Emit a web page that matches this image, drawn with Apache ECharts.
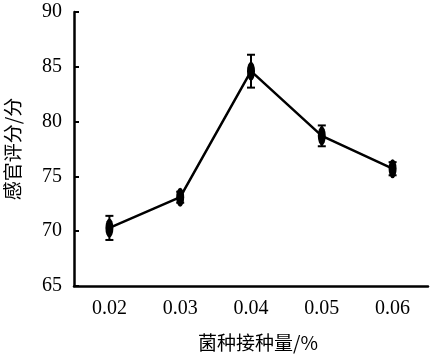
<!DOCTYPE html>
<html><head><meta charset="utf-8">
<script src="https://cdn.jsdelivr.net/npm/echarts@6/dist/echarts.min.js"></script>
<style>html,body{margin:0;padding:0;background:#fff}#c{width:430px;height:358px}</style>
</head><body><div id="c"></div>
<script>
const categories = ['0.02', '0.03', '0.04', '0.05', '0.06'];
const scores = [70.3, 73.1, 84.6, 78.7, 75.7];
const errors = [1.1, 0.5, 1.5, 0.95, 0.6];
const yTicks = [65, 70, 75, 80, 85, 90];

const chart = echarts.init(document.getElementById('c'), null, {renderer: 'canvas'});
const serif = '"Liberation Serif","Times New Roman",serif';
const cjk = '"Noto Sans CJK SC",sans-serif';
chart.setOption({
  animation: false,
  backgroundColor: '#fff',
  grid: {left: 74, top: 12, right: 2, bottom: 72, containLabel: false, outerBoundsMode: 'none'},
  xAxis: {
    type: 'category', data: categories, boundaryGap: true,
    name: '菌种接种量/%', nameLocation: 'middle', nameGap: 47,
    nameTextStyle: {fontFamily: cjk, fontSize: 19, color: '#000', padding: [0, 0, 0, 14]},
    axisLine: {lineStyle: {color: '#000', width: 2.5}},
    axisTick: {alignWithLabel: true, inside: true, length: 10, lineStyle: {color: '#000', width: 2}},
    axisLabel: {fontFamily: serif, fontSize: 20, color: '#000', margin: 13}
  },
  yAxis: {
    type: 'value', min: yTicks[0], max: yTicks[yTicks.length - 1], interval: 5,
    name: '感官评分/分', nameLocation: 'middle', nameGap: 52,
    nameTextStyle: {fontFamily: cjk, fontSize: 19, color: '#000'},
    splitLine: {show: false},
    axisLine: {show: true, lineStyle: {color: '#000', width: 2.5}},
    axisTick: {show: true, inside: true, length: 5, lineStyle: {color: '#000', width: 2}},
    axisLabel: {fontFamily: serif, fontSize: 20, color: '#000', margin: 12}
  },
  series: [
    {
      type: 'line', data: scores, symbol: 'circle', symbolSize: [8, 19],
      lineStyle: {color: '#000', width: 2.5}, itemStyle: {color: '#000'}, z: 3
    },
    {
      type: 'custom', z: 4,
      data: scores.map((v, i) => [i, v - errors[i], v + errors[i]]),
      renderItem: function (params, api) {
        const lo = api.coord([api.value(0), api.value(1)]);
        const hi = api.coord([api.value(0), api.value(2)]);
        const w = 4;
        const st = {stroke: '#000', lineWidth: 2};
        return {type: 'group', children: [
          {type: 'line', shape: {x1: lo[0], y1: lo[1], x2: hi[0], y2: hi[1]}, style: st},
          {type: 'line', shape: {x1: lo[0] - w, y1: lo[1], x2: lo[0] + w, y2: lo[1]}, style: st},
          {type: 'line', shape: {x1: hi[0] - w, y1: hi[1], x2: hi[0] + w, y2: hi[1]}, style: st}
        ]};
      }
    }
  ]
});
</script></body></html>
